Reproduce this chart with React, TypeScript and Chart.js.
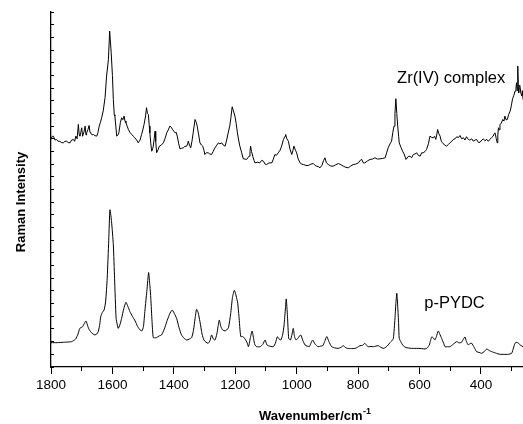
import React, { useEffect, useRef } from "react";
import { Chart, registerables } from "chart.js";

Chart.register(...registerables);

// ---- Data (wavenumber in cm^-1, intensity in arbitrary units) ----
const ZR_WN = [
  1800, 1796, 1792, 1787, 1782, 1777, 1771, 1766, 1760, 1755, 1749, 1744, 1738, 1733, 1727, 1723, 1719, 1715, 1711, 1708,
  1706, 1703, 1700, 1697, 1695, 1692, 1689, 1686, 1684, 1680, 1676, 1673, 1671, 1666, 1662, 1657, 1651, 1647, 1643, 1639,
  1635, 1630, 1624, 1619, 1613, 1609, 1604, 1600, 1597, 1594, 1592, 1589, 1586, 1582, 1579, 1574, 1570, 1566, 1562, 1559,
  1556, 1552, 1548, 1543, 1537, 1532, 1527, 1521, 1516, 1510, 1505, 1501, 1497, 1492, 1489, 1486, 1483, 1480, 1478, 1475,
  1472, 1469, 1467, 1464, 1461, 1459, 1456, 1452, 1447, 1441, 1434, 1429, 1423, 1418, 1413, 1408, 1404, 1400, 1396, 1392,
  1389, 1384, 1380, 1375, 1369, 1364, 1358, 1355, 1353, 1349, 1345, 1341, 1337, 1334, 1331, 1327, 1324, 1319, 1315, 1310,
  1306, 1302, 1299, 1294, 1288, 1283, 1277, 1272, 1266, 1260, 1255, 1250, 1244, 1239, 1233, 1228, 1223, 1218, 1214, 1210,
  1206, 1201, 1197, 1193, 1189, 1185, 1179, 1174, 1168, 1163, 1159, 1155, 1152, 1150, 1147, 1143, 1139, 1136, 1128, 1120,
  1114, 1108, 1103, 1098, 1090, 1081, 1076, 1071, 1066, 1060, 1054, 1049, 1043, 1038, 1036, 1032, 1027, 1022, 1016, 1012,
  1009, 1004, 1000, 995, 989, 983, 978, 970, 962, 954, 946, 940, 935, 929, 924, 918, 912, 908, 903, 897,
  889, 881, 873, 864, 856, 848, 840, 832, 824, 816, 808, 799, 793, 788, 783, 778, 770, 761, 753, 745,
  737, 729, 720, 712, 707, 702, 696, 691, 687, 683, 680, 677, 674, 671, 668, 666, 660, 655, 650, 644,
  637, 631, 626, 620, 615, 609, 604, 598, 593, 588, 582, 577, 571, 566, 560, 555, 551, 547, 544, 541,
  537, 533, 529, 525, 518, 512, 506, 501, 495, 490, 484, 479, 473, 468, 463, 457, 452, 447, 441, 436,
  430, 425, 419, 414, 408, 403, 397, 392, 387, 381, 376, 371, 365, 360, 357, 354, 350, 347, 345, 343,
  340, 338, 334, 329, 325, 322, 318, 314, 310, 305, 301, 297, 293, 289, 286, 284, 282, 280, 278, 277,
  275, 273, 270, 267, 265, 263,
];
const ZR_VAL = [
  17.95, 18.2, 18.2, 17.9, 17.95, 17.8, 17.8, 17.7, 17.68, 17.8, 17.81, 17.7, 17.68, 17.9, 17.95, 17.8, 18.21, 18.0, 19.13, 18.3,
  18.21, 18.5, 18.87, 18.2, 18.34, 18.6, 19.0, 18.3, 18.47, 18.7, 19.05, 18.5, 18.47, 18.3, 18.34, 18.25, 18.21, 18.5, 19.0, 19.3,
  19.66, 20.2, 21.24, 22.95, 24.26, 26.5, 24.79, 23.0, 21.1, 19.9, 19.79, 19.0, 18.21, 18.3, 18.47, 19.3, 19.66, 19.5, 19.79, 19.4,
  19.26, 19.0, 18.73, 18.5, 18.34, 18.2, 18.08, 17.9, 17.68, 17.9, 18.34, 18.7, 19.13, 19.8, 20.45, 20.0, 19.92, 19.0, 18.47, 17.6,
  17.02, 17.2, 17.42, 18.0, 18.6, 17.8, 16.9, 17.1, 17.42, 17.5, 17.68, 18.0, 18.47, 18.7, 19.0, 18.9, 18.73, 18.6, 18.47, 18.5,
  18.21, 17.6, 17.21, 17.25, 17.29, 17.4, 17.42, 17.6, 17.81, 17.5, 17.29, 17.8, 18.47, 19.0, 19.52, 19.3, 19.0, 18.3, 17.68, 17.5,
  17.42, 17.1, 16.76, 16.9, 16.89, 16.8, 16.76, 17.0, 17.29, 17.5, 17.68, 17.6, 17.68, 17.5, 17.42, 17.9, 18.47, 19.0, 19.7, 20.52,
  20.2, 19.79, 19.2, 18.47, 17.9, 17.42, 16.9, 16.42, 16.4, 16.37, 16.5, 16.63, 17.0, 17.42, 17.0, 16.63, 16.3, 16.1, 16.15, 16.1,
  16.3, 16.23, 16.0, 15.97, 16.1, 16.1, 16.4, 16.76, 16.7, 16.89, 17.1, 17.42, 17.95, 18.2, 18.34, 18.0, 17.81, 17.2, 16.76, 17.1,
  17.42, 17.1, 16.89, 16.4, 16.1, 16.0, 15.97, 15.9, 15.89, 16.0, 16.05, 15.9, 15.84, 15.8, 15.71, 15.9, 16.3, 16.5, 16.1, 15.97,
  15.85, 15.84, 15.95, 16.05, 15.95, 15.84, 15.75, 15.71, 15.85, 15.97, 16.0, 16.1, 16.3, 16.37, 16.1, 16.1, 16.25, 16.37, 16.4, 16.5,
  16.4, 16.42, 16.45, 16.5, 16.9, 17.29, 17.6, 17.81, 18.5, 19.0, 20.0, 21.16, 20.0, 19.0, 18.2, 17.68, 17.3, 17.02, 16.8, 16.37,
  16.6, 16.63, 16.5, 16.76, 16.8, 16.89, 16.7, 16.63, 16.9, 16.89, 17.0, 17.16, 17.6, 18.21, 18.1, 18.08, 18.2, 17.95, 18.3, 18.73,
  18.4, 18.21, 17.8, 17.68, 17.5, 17.42, 17.55, 17.68, 17.8, 17.95, 18.0, 18.16, 18.1, 18.26, 18.0, 18.08, 17.9, 18.16, 17.95, 17.89,
  18.0, 17.81, 17.9, 17.95, 17.7, 17.73, 17.9, 17.99, 17.85, 17.95, 17.8, 17.95, 18.1, 18.21, 18.4, 18.47, 18.0, 17.68, 18.3, 18.87,
  18.7, 19.13, 19.2, 19.52, 19.4, 19.79, 19.5, 19.52, 19.9, 20.18, 20.6, 21.16, 21.4, 21.76, 22.0, 22.42, 21.8, 23.73, 22.0, 21.63,
  22.2, 22.16, 21.6, 21.37, 21.8, 21.1,
];

const PYDC_WN = [
  1800, 1780, 1760, 1745, 1733, 1720, 1712, 1706, 1697, 1692, 1686, 1680, 1675, 1666, 1657, 1651, 1646, 1641, 1638, 1633,
  1627, 1622, 1617, 1612, 1608, 1603, 1597, 1593, 1588, 1584, 1581, 1576, 1570, 1563, 1556, 1550, 1543, 1535, 1526, 1518,
  1510, 1504, 1499, 1494, 1488, 1485, 1482, 1478, 1475, 1471, 1467, 1461, 1456, 1448, 1440, 1431, 1423, 1415, 1409, 1404,
  1398, 1391, 1383, 1375, 1366, 1358, 1350, 1342, 1336, 1331, 1326, 1321, 1315, 1308, 1302, 1295, 1288, 1282, 1277, 1271,
  1266, 1260, 1256, 1252, 1247, 1241, 1233, 1228, 1222, 1215, 1209, 1203, 1197, 1192, 1188, 1182, 1175, 1168, 1162, 1157,
  1150, 1145, 1140, 1136, 1130, 1119, 1110, 1103, 1097, 1092, 1084, 1076, 1069, 1063, 1057, 1052, 1046, 1041, 1037, 1034,
  1030, 1026, 1022, 1020, 1015, 1011, 1007, 1002, 995, 987, 980, 973, 966, 959, 954, 948, 940, 930, 922, 915,
  909, 902, 895, 886, 875, 864, 856, 848, 842, 835, 822, 810, 802, 794, 786, 778, 772, 767, 758, 750,
  742, 734, 726, 718, 710, 702, 697, 693, 689, 685, 680, 677, 674, 671, 668, 666, 660, 655, 650, 644,
  636, 626, 615, 604, 593, 582, 575, 568, 564, 560, 555, 550, 545, 539, 534, 528, 522, 517, 509, 501,
  490, 479, 471, 463, 457, 452, 447, 441, 436, 430, 422, 414, 406, 398, 390, 381, 373, 365, 352, 338,
  325, 311, 300, 294, 289, 283, 278, 270, 263,
];
const PYDC_VAL = [
  1.92, 1.92, 1.95, 1.97, 2.0, 2.2, 2.6, 3.05, 3.18, 3.4, 3.63, 3.2, 2.92, 2.65, 2.53, 2.6, 2.79, 3.4, 3.97, 4.3,
  4.5, 5.2, 7.0, 10.0, 12.4, 11.5, 9.63, 7.0, 3.84, 3.3, 3.05, 3.3, 3.84, 4.6, 5.1, 4.8, 4.37, 4.0, 3.63, 3.2,
  2.92, 2.85, 3.18, 4.5, 5.95, 6.8, 7.45, 6.4, 5.42, 3.6, 2.32, 2.3, 2.32, 2.45, 2.53, 3.0, 3.58, 4.1, 4.4, 4.47,
  4.2, 3.84, 3.1, 2.53, 2.25, 2.13, 2.2, 2.32, 2.9, 3.8, 4.55, 4.3, 3.58, 2.6, 2.13, 1.95, 1.87, 2.1, 2.53, 2.2,
  2.13, 2.6, 3.2, 3.71, 3.2, 2.92, 2.85, 2.92, 3.1, 4.2, 5.5, 6.05, 5.6, 5.03, 4.0, 2.4, 2.4, 2.2, 1.95, 1.6,
  2.4, 2.84, 2.2, 1.75, 1.6, 1.6, 1.8, 2.13, 1.75, 1.68, 1.62, 1.6, 1.9, 2.39, 2.2, 2.13, 2.5, 3.32, 4.5, 5.37,
  4.0, 2.26, 2.15, 2.13, 2.6, 3.05, 2.4, 2.13, 2.3, 2.53, 2.1, 1.74, 1.65, 1.6, 1.85, 2.13, 1.8, 1.6, 1.65, 1.68,
  2.0, 2.4, 2.0, 1.6, 1.5, 1.47, 1.55, 1.68, 1.55, 1.47, 1.45, 1.47, 1.55, 1.68, 1.7, 1.87, 1.7, 1.6, 1.62, 1.6,
  1.65, 1.68, 1.55, 1.47, 1.55, 1.74, 1.9, 2.0, 2.1, 2.26, 3.8, 5.0, 5.82, 4.8, 3.4, 2.26, 1.95, 1.74, 1.62, 1.53,
  1.5, 1.47, 1.47, 1.47, 1.45, 1.42, 1.5, 1.74, 2.1, 2.37, 2.3, 2.13, 2.4, 2.84, 2.6, 2.26, 1.9, 1.6, 1.6, 1.6,
  1.8, 2.0, 1.9, 1.95, 2.2, 2.37, 2.0, 1.74, 1.85, 1.87, 1.55, 1.21, 1.15, 1.08, 1.2, 1.42, 1.3, 1.21, 1.1, 1.0,
  1.0, 1.0, 1.08, 1.5, 1.87, 1.95, 1.87, 1.7, 1.6,
];

const X_MIN = 263;
const X_MAX = 1800;
const Y_MIN = 0;
const Y_MAX = 28;
const X_MAJOR_TICKS = [1800, 1600, 1400, 1200, 1000, 800, 600, 400];
const X_MINOR_TICKS = [1700, 1500, 1300, 1100, 900, 700, 500, 300];

const LABEL_ZR = "Zr(IV) complex";
const LABEL_ZR_POS = { x: 497, y: 22.75 };
const LABEL_PYDC = "p-PYDC";
const LABEL_PYDC_POS = { x: 486, y: 5.05 };
const X_TITLE = "Wavenumber/cm";
const X_TITLE_SUP = "-1";
const Y_TITLE = "Raman Intensity";

const FONT = '"Liberation Sans", Arial, Helvetica, sans-serif';

export default function App() {
  const ref = useRef<HTMLCanvasElement | null>(null);

  useEffect(() => {
    if (!ref.current) return;

    const textPlugin = {
      id: "textPlugin",
      afterDraw(chart: any) {
        const ctx = chart.ctx;
        const xs = chart.scales.x;
        const ys = chart.scales.y;
        ctx.save();
        ctx.fillStyle = "#000";
        // annotations
        ctx.font = `16.5px ${FONT}`;
        ctx.textAlign = "center";
        ctx.textBaseline = "middle";
        ctx.fillText(LABEL_ZR, xs.getPixelForValue(LABEL_ZR_POS.x), ys.getPixelForValue(LABEL_ZR_POS.y));
        ctx.fillText(LABEL_PYDC, xs.getPixelForValue(LABEL_PYDC_POS.x), ys.getPixelForValue(LABEL_PYDC_POS.y));
        // x title with superscript
        ctx.font = `bold 13px ${FONT}`;
        ctx.textAlign = "left";
        ctx.textBaseline = "alphabetic";
        const tx = 259;
        const ty = 420;
        ctx.fillText(X_TITLE, tx, ty);
        const w = ctx.measureText(X_TITLE).width;
        ctx.font = `bold 9px ${FONT}`;
        ctx.fillText(X_TITLE_SUP, tx + w + 0.5, ty - 6);
        // y title
        ctx.font = `bold 13px ${FONT}`;
        ctx.translate(21, 202);
        ctx.rotate(-Math.PI / 2);
        ctx.textAlign = "center";
        ctx.textBaseline = "middle";
        ctx.fillText(Y_TITLE, 0, 0);
        ctx.restore();
      },
    };

    const chart = new Chart(ref.current, {
      type: "line",
      data: {
        datasets: [
          {
            label: "Zr(IV) complex",
            data: ZR_WN.map((x, i) => ({ x, y: ZR_VAL[i] })),
            borderColor: "#000",
            borderWidth: 1,
            pointRadius: 0,
            tension: 0,
            fill: false,
          },
          {
            label: "p-PYDC",
            data: PYDC_WN.map((x, i) => ({ x, y: PYDC_VAL[i] })),
            borderColor: "#000",
            borderWidth: 1,
            pointRadius: 0,
            tension: 0.2,
            fill: false,
          },
        ],
      },
      options: {
        responsive: false,
        animation: false,
        devicePixelRatio: 1,
        layout: { padding: { top: 12, left: 0, right: 0, bottom: 0 } },
        plugins: { legend: { display: false }, tooltip: { enabled: false } },
        scales: {
          x: {
            type: "linear",
            position: "bottom",
            reverse: true,
            min: X_MIN,
            max: X_MAX,
            weight: 1,
            grid: { drawOnChartArea: false, drawTicks: true, tickLength: 7, color: "#000", lineWidth: 1 },
            border: { display: true, color: "#000", width: 1.3 },
            ticks: {
              color: "#000",
              font: { family: FONT, size: 13.5 },
              padding: 3,
              autoSkip: false,
              maxRotation: 0,
              callback: (v: any) => String(v),
            },
            afterBuildTicks: (s: any) => {
              s.ticks = X_MAJOR_TICKS.map((v) => ({ value: v }));
            },
            afterFit: (s: any) => {
              s.height = 57;
            },
          },
          xMinor: {
            type: "linear",
            position: "bottom",
            reverse: true,
            min: X_MIN,
            max: X_MAX,
            weight: 0,
            grid: { drawOnChartArea: false, drawTicks: true, tickLength: 4, color: "#000", lineWidth: 1 },
            border: { display: false },
            ticks: { display: false },
            afterBuildTicks: (s: any) => {
              s.ticks = X_MINOR_TICKS.map((v) => ({ value: v }));
            },
            afterFit: (s: any) => {
              s.height = 0;
            },
          },
          y: {
            type: "linear",
            position: "left",
            min: Y_MIN,
            max: Y_MAX,
            grid: { drawOnChartArea: false, drawTicks: true, tickLength: -3, color: "#000", lineWidth: 1 },
            border: { display: true, color: "#000", width: 1.3 },
            ticks: { display: false, stepSize: 1, autoSkip: false },
            afterFit: (s: any) => {
              s.width = 51;
            },
          },
        },
      },
      plugins: [textPlugin],
    });

    return () => chart.destroy();
  }, []);

  return (
    <div style={{ position: "absolute", left: 0, top: 0, width: 523, height: 424, background: "#fff" }}>
      <canvas ref={ref} width={523} height={424} style={{ display: "block" }} />
    </div>
  );
}
